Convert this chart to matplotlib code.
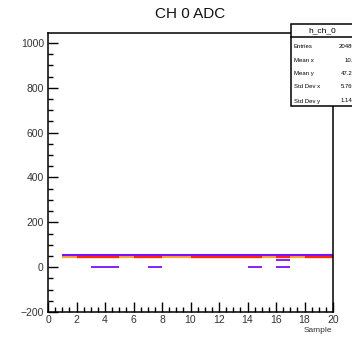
import matplotlib
matplotlib.use("Agg")
import matplotlib.pyplot as plt
from matplotlib.patches import Rectangle
from matplotlib.ticker import MultipleLocator

plt.rcParams['font.family'] = ['Liberation Sans', 'DejaVu Sans']

# bins (left edges of sample bins, width 1)
bins = list(range(1, 20))
# persistence bands (value per bin, None = empty)
purple_vals = [54] * 19
orange_vals = [45] * 19
red_vals = [None, 46, 46, 46, None, 46, 46, None, None, 46, 46, 46, 46, 46, None, 46, None, 46, 46]
low_vals = [None, None, 0, 0, None, None, 0, None, None, None, None, None, None, 0, None, 0, None, None, None]
mid_vals = [None] * 15 + [34] + [None] * 3

stat_names = ["Entries", "Mean x", "Mean y", "Std Dev x", "Std Dev y"]
stat_values = ["20480", "10.5", "47.25", "5.766", "1.142"]

W, H = 352, 339
fig = plt.figure(figsize=(W / 100, H / 100), dpi=100)
ax = fig.add_axes([48 / W, 27 / H, 285 / W, 279 / H])

def draw(vals, color, lw):
    for b, v in zip(bins, vals):
        if v is not None:
            ax.hlines(v, b, b + 1, colors=color, linewidth=lw)

draw(orange_vals, '#ffa030', 1.6)
draw(red_vals, '#ff2a00', 1.6)
draw(purple_vals, '#7a10ff', 1.5)
draw(low_vals, '#7a10ff', 1.3)
draw(mid_vals, '#7a10ff', 1.3)

ax.set_xlim(0, 20)
ax.set_ylim(-200, 1044)
ax.xaxis.set_major_locator(MultipleLocator(2))
ax.xaxis.set_minor_locator(MultipleLocator(0.5))
ax.yaxis.set_major_locator(MultipleLocator(200))
ax.yaxis.set_minor_locator(MultipleLocator(50))
ax.tick_params(which='both', direction='in', top=False, right=False,
               labelsize=7.5, labelcolor='#333333', width=1.0)
ax.tick_params(axis='y', pad=3)
ax.tick_params(axis='x', pad=2.5)
ax.tick_params(which='major', length=7)
ax.tick_params(which='minor', length=3.5)
for s in ax.spines.values():
    s.set_linewidth(1.1)

fig.text(190.5 / W, 1 - 14 / H, "CH 0 ADC", ha='center', va='center', fontsize=11, color='#111111')
fig.text(332 / W, 1 - 331 / H, "Sample", ha='right', va='center', fontsize=6, color='#333333')

# stats box
bx0, by0, bx1, by1 = 291, 24, 372, 106
fig.patches.append(Rectangle((bx0 / W, 1 - by1 / H), (bx1 - bx0) / W, (by1 - by0) / H,
                             transform=fig.transFigure, facecolor='white', edgecolor='black',
                             linewidth=1.1, zorder=5))
fig.add_artist(plt.Line2D([bx0 / W, bx1 / W], [1 - 37 / H, 1 - 37 / H],
                          transform=fig.transFigure, color='black', linewidth=1.1, zorder=6))
fig.text(322 / W, 1 - 30.5 / H, "h_ch_0", ha='center', va='center', fontsize=6, zorder=7)
rows_y = [46, 60, 73.5, 87, 101]
for name, val, yy in zip(stat_names, stat_values, rows_y):
    fig.text(294 / W, 1 - yy / H, name, ha='left', va='center', fontsize=4.3, zorder=7)
    fig.text(356 / W, 1 - yy / H, val, ha='right', va='center', fontsize=4.3, zorder=7)

fig.savefig("out.png", dpi=100)
